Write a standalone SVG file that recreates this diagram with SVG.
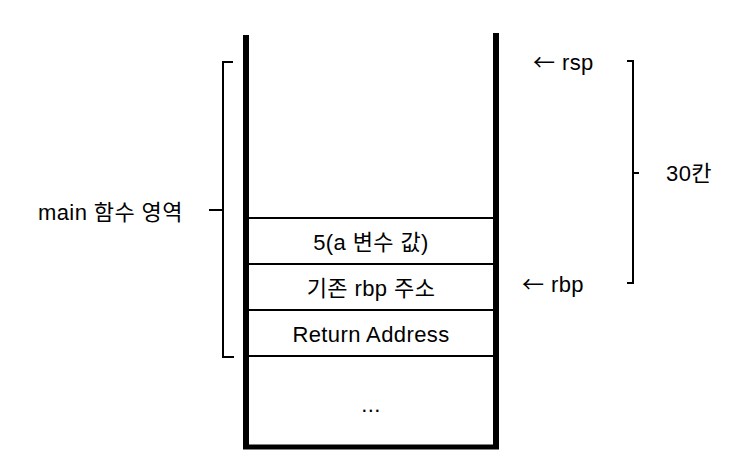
<svg xmlns="http://www.w3.org/2000/svg" width="732" height="476" viewBox="0 0 732 476">
<style>
text{font-family:"Liberation Sans","Noto Sans CJK KR",sans-serif;font-size:22px;letter-spacing:0.4px;fill:#000}
.c{text-anchor:middle}
.ar{font-family:"Noto Sans CJK KR",sans-serif}
.thin{stroke:#000;stroke-width:2;fill:none}
.br{stroke:#000;stroke-width:2;fill:none}
</style>
<rect width="732" height="476" fill="#fff"/>
<g id="stack">
<line x1="246" y1="35" x2="246" y2="449" stroke="#000" stroke-width="6"/>
<line x1="496" y1="33" x2="496" y2="449" stroke="#000" stroke-width="6"/>
<line x1="243" y1="447" x2="499" y2="447" stroke="#000" stroke-width="5"/>
</g>
<g id="slot-a">
<line class="thin" x1="246" y1="218" x2="496" y2="218"/>
<text class="c" x="371" y="250">5(a 변수 값)</text>
</g>
<g id="slot-rbp">
<line class="thin" x1="246" y1="264" x2="496" y2="264" stroke-width="2.5"/>
<text class="c" x="371" y="296">기존 rbp 주소</text>
</g>
<g id="slot-ret">
<line class="thin" x1="246" y1="310" x2="496" y2="310" stroke-width="3"/>
<text class="c" x="371" y="342">Return Address</text>
</g>
<g id="slot-more">
<line class="thin" x1="246" y1="356" x2="496" y2="356" stroke-width="3.5"/>
<text class="c" x="371" y="412">...</text>
</g>
<g id="connectors">
<path class="br" d="M233,62 H223 V210 H209 M223,210 V357 H234"/>
<path class="br" d="M627,61 H633 V283 H627 M633,173 H639"/>
</g>
<g id="label-main"><text x="38" y="220">main 함수 영역</text></g>
<g id="label-rsp"><text x="533" y="70"><tspan class="ar">←</tspan> rsp</text></g>
<g id="label-rbp"><text x="522" y="292"><tspan class="ar">←</tspan> rbp</text></g>
<g id="label-30"><text x="666" y="181">30칸</text></g>
</svg>
